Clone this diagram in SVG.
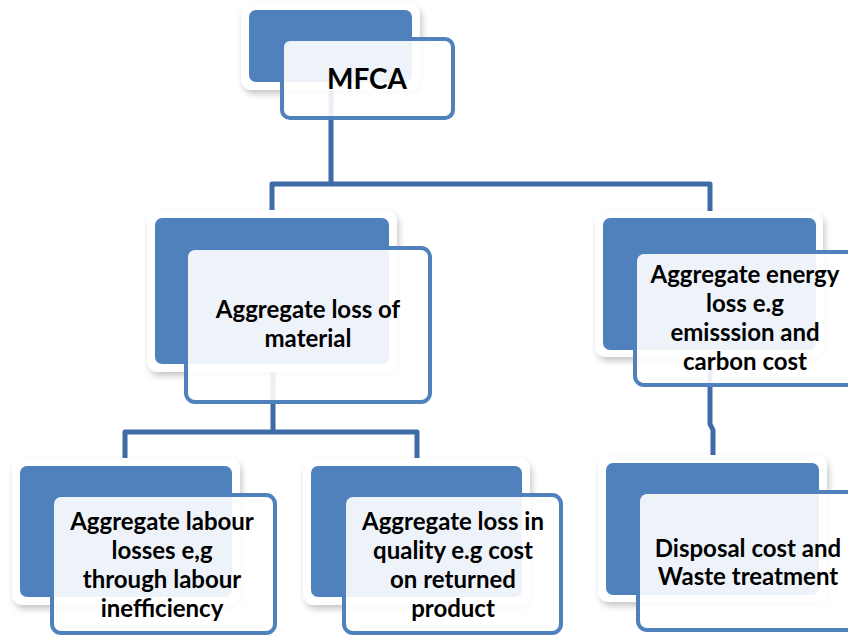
<svg xmlns="http://www.w3.org/2000/svg" width="848" height="636" viewBox="0 0 848 636">
<defs>
<filter id="sh" x="-10%" y="-10%" width="125%" height="130%">
<feDropShadow dx="2" dy="4" stdDeviation="3" flood-color="#000" flood-opacity="0.22"/>
</filter>
</defs>
<style>
.outer{fill:#ffffff;filter:url(#sh)}
.back{fill:#4f81bd}
.front{fill:#ffffff;fill-opacity:0.9;stroke:#4f81bd;stroke-width:4}
.conn{fill:none;stroke:#3f6ba7;stroke-width:5;stroke-linejoin:round}
text{font-family:Lato,"Open Sans","Liberation Sans",sans-serif;font-weight:bold;font-size:24px;fill:#000;text-anchor:middle}
.big{font-size:28px}
</style>
<rect width="848" height="636" fill="#ffffff"/>
<g id="connectors">
<path class="conn" d="M331,85 V184 H272 V212"/>
<path class="conn" d="M331,184 H710 V212"/>
<path class="conn" d="M273,365 V432 H125 V460"/>
<path class="conn" d="M273,432 H417 V458"/>
<path class="conn" d="M710,352 V424 L713,430 V457"/>
</g>
<g id="node-mfca">
<rect class="outer" x="241" y="3" width="179" height="87" rx="11"/>
<rect class="back" x="249" y="10" width="163" height="72" rx="7"/>
<rect class="front" x="282" y="39" width="171" height="79" rx="8"/>
<text class="big" x="367" y="89">MFCA</text>
</g>
<g id="node-material">
<rect class="outer" x="147" y="210" width="250" height="162" rx="11"/>
<rect class="back" x="155" y="218" width="234" height="146" rx="7"/>
<rect class="front" x="186" y="248" width="244" height="154" rx="9"/>
<text x="308" y="318">Aggregate loss of</text>
<text x="308" y="347">material</text>
</g>
<g id="node-energy">
<rect class="outer" x="595" y="211" width="228" height="146" rx="11"/>
<rect class="back" x="603" y="218" width="213" height="132" rx="7"/>
<rect class="front" x="635" y="252" width="224" height="133" rx="9"/>
<text x="745" y="283">Aggregate energy</text>
<text x="745" y="312">loss e.g</text>
<text x="745" y="341">emisssion and</text>
<text x="745" y="370">carbon cost</text>
</g>
<g id="node-labour">
<rect class="outer" x="12" y="458" width="228" height="147" rx="11"/>
<rect class="back" x="20" y="466" width="212" height="131" rx="7"/>
<rect class="front" x="52" y="495" width="223" height="138" rx="9"/>
<text x="162" y="530">Aggregate labour</text>
<text x="162" y="559">losses e,g</text>
<text x="162" y="588">through labour</text>
<text x="162" y="617">inefficiency</text>
</g>
<g id="node-quality">
<rect class="outer" x="303" y="458" width="227" height="147" rx="11"/>
<rect class="back" x="311" y="466" width="211" height="131" rx="7"/>
<rect class="front" x="344" y="495" width="217" height="138" rx="9"/>
<text x="453" y="530">Aggregate loss in</text>
<text x="453" y="559">quality e.g cost</text>
<text x="453" y="588">on returned</text>
<text x="453" y="617">product</text>
</g>
<g id="node-disposal">
<rect class="outer" x="598" y="455" width="229" height="147" rx="11"/>
<rect class="back" x="606" y="463" width="213" height="132" rx="7"/>
<rect class="front" x="638" y="492" width="222" height="138" rx="9"/>
<text x="748" y="557">Disposal cost and</text>
<text x="748" y="585">Waste treatment</text>
</g>
</svg>
